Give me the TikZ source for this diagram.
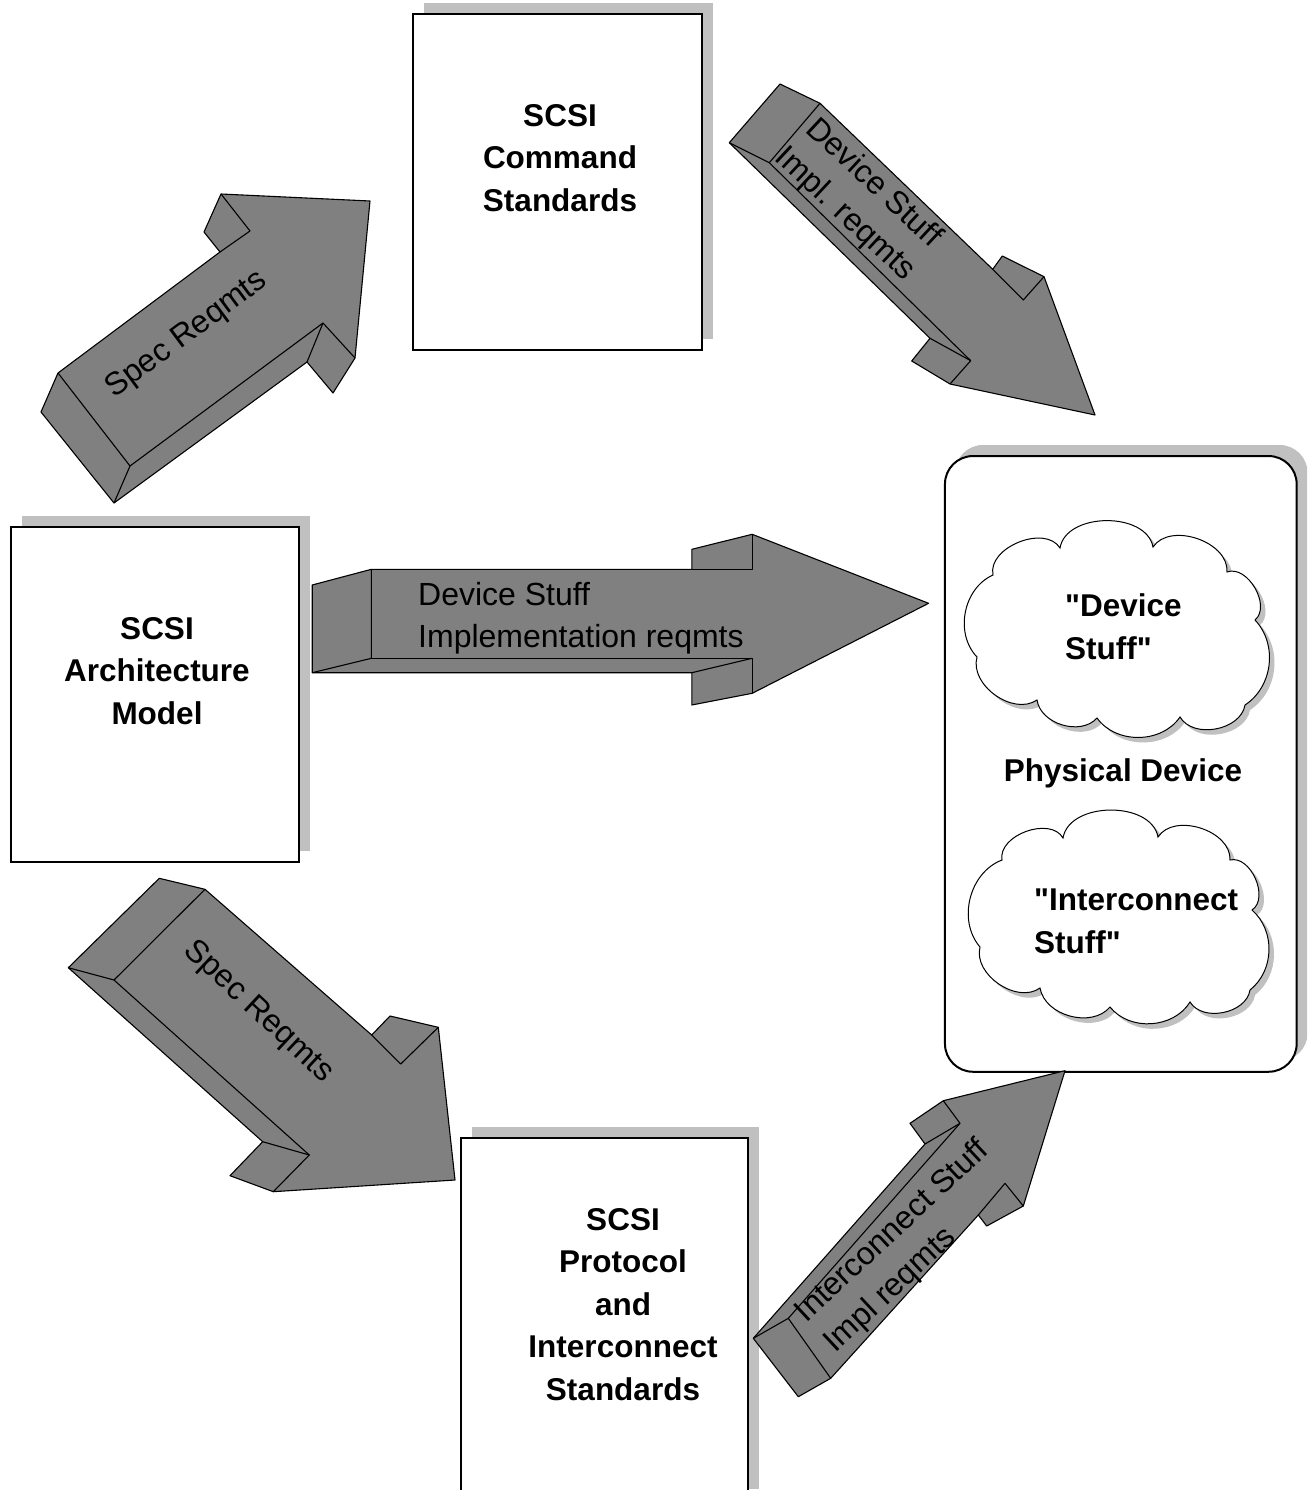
\documentclass[tikz,border=0pt]{standalone}
\usepackage{fontspec}
\setmainfont{Liberation Sans}
\usetikzlibrary{shadows}
\definecolor{shadowgray}{HTML}{C0C0C0}
\definecolor{arrowgray}{HTML}{808080}
\begin{document}
\begin{tikzpicture}[x=1pt,y=-1pt,
  stdbox/.style={draw=black, line width=2pt, fill=white, rectangle, inner sep=0pt,
    drop shadow={shadow xshift=11pt, shadow yshift=11pt, fill=shadowgray, opacity=1}},
  boxlabel/.style={font=\fontsize{31.5}{42.5}\selectfont\bfseries, align=center, inner sep=0pt},
  arrowlabel/.style={font=\fontsize{32}{42}\selectfont, inner sep=0pt},
  arrowface/.style={fill=arrowgray, draw=black, line width=1.1pt, line join=round},
  arrowedge/.style={draw=black, line width=1.1pt, line join=round},
  cloudstyle/.style={fill=white, draw=black, line width=1pt,
    drop shadow={shadow xshift=5pt, shadow yshift=-5pt, fill=shadowgray, opacity=1}}]
\clip (0,0) rectangle (1307,1490);
\fill[white] (0,0) rectangle (1307,1490);

% boxes
\node[stdbox, minimum width=288.4pt, minimum height=336pt] (cmdbox) at (557.5,182) {};
\node[stdbox, minimum width=288pt, minimum height=334.7pt] (archbox) at (155,694.7) {};
\node[stdbox, minimum width=287pt, minimum height=362pt] (protbox) at (604.5,1319) {};
\node[stdbox, rounded corners=28pt, minimum width=351.7pt, minimum height=615.7pt,
  drop shadow={shadow xshift=10pt, shadow yshift=11pt, fill=shadowgray, opacity=1}] (physbox) at (1120.8,763.9) {};

% clouds
\path[cloudstyle] (993,575) to[bend left=80] (1060,548)
  to[bend left=80] (1153,547) to[bend left=75] (1227,572)
  to[bend left=80] (1255,620) to[bend left=50] (1245,705) to[bend left=70] (1180,717)
  to[bend left=55] (1097,718) to[bend left=65] (1037,700) to[bend left=70] (977,657)
  to[bend left=55] (993,575) -- cycle;
\path[cloudstyle] (1002,860) to[bend left=80] (1063,838)
  to[bend left=80] (1158,837) to[bend left=75] (1230,860)
  to[bend left=80] (1252,910) to[bend left=50] (1250,990) to[bend left=70] (1190,1002)
  to[bend left=55] (1110,1007) to[bend left=65] (1040,988) to[bend left=70] (980,947)
  to[bend left=55] (1002,860) -- cycle;

% arrow 1: Spec Reqmts (up)
\path[arrowface] (41,412) -- (58,373) -- (220,252) -- (204,232) -- (221,194) -- (370,201)
  -- (355,358) -- (333,393) -- (307,362) -- (114,503) -- cycle;
\path[arrowedge] (58,373) -- (130,466) -- (114,503);
\path[arrowedge] (130,466) -- (323,323) -- (355,358);
\path[arrowedge] (323,323) -- (307,362);
\path[arrowedge] (221,194) -- (250,231) -- (220,252);

% arrow 2: Device Stuff Impl. reqmts (down-right)
\path[arrowface] (780,84) -- (820,103.3) -- (992.7,269.3) -- (1002.3,256) -- (1044,276.7)
  -- (1095,415) -- (950,384) -- (911.7,361) -- (930,338.3) -- (729.3,142.7) -- cycle;
\path[arrowedge] (820,103.3) -- (769.3,162.7) -- (729.3,142.7);
\path[arrowedge] (769.3,162.7) -- (970.7,360.7) -- (950,384);
\path[arrowedge] (970.7,360.7) -- (930,338.3);
\path[arrowedge] (992.7,269.3) -- (1023.3,300) -- (1044,276.7);

% arrow 3: horizontal
\path[arrowface] (312.2,585) -- (371.4,569.3) -- (691.8,569.3) -- (691.8,549.3) -- (752.2,534.3)
  -- (928.6,603.3) -- (752.2,693.3) -- (691.8,705) -- (691.8,672.7) -- (312.2,672.7) -- cycle;
\path[arrowedge] (371.4,569.3) -- (371.4,658.3) -- (312.2,672.7);
\path[arrowedge] (371.4,658.3) -- (752.2,658.3) -- (752.2,693.3);
\path[arrowedge] (752.2,658.3) -- (691.8,672.7);
\path[arrowedge] (691.8,569.3) -- (752.2,569.3) -- (752.2,534.3);

% arrow 4: Spec Reqmts (down)
\path[arrowface] (159.3,878.3) -- (205,889.3) -- (371.7,1035) -- (390,1016) -- (438.3,1027.3)
  -- (455,1180) -- (273.3,1191.7) -- (230,1175.7) -- (262.7,1141.7) -- (68.3,967.7) -- cycle;
\path[arrowedge] (205,889.3) -- (114,980) -- (68.3,967.7);
\path[arrowedge] (114,980) -- (309.3,1155) -- (273.3,1191.7);
\path[arrowedge] (309.3,1155) -- (262.7,1141.7);
\path[arrowedge] (371.7,1035) -- (400.7,1064) -- (438.3,1027.3);

% arrow 5: Interconnect (up-right)
\path[arrowface] (798.3,1396.7) -- (753.3,1338.3) -- (925,1144) -- (910,1123.3) -- (943.3,1100.7)
  -- (1065,1070.7) -- (1023.3,1206) -- (986.7,1226) -- (978.3,1215) -- (830.7,1378.3) -- cycle;
\path[arrowedge] (753.3,1338.3) -- (788.3,1318.3) -- (830.7,1378.3);
\path[arrowedge] (788.3,1318.3) -- (960,1123.3) -- (943.3,1100.7);
\path[arrowedge] (960,1123.3) -- (925,1144);
\path[arrowedge] (1023.3,1206) -- (1005,1183.3) -- (978.3,1215);

% labels
\node[boxlabel] (cmdtext) at (560,158) {SCSI\\Command\\Standards};
\node[boxlabel] (archtext) at (157,671) {SCSI\\Architecture\\Model};
\node[boxlabel] (prottext) at (623,1304.5) {SCSI\\Protocol\\and\\Interconnect\\Standards};
\node[boxlabel, align=left, anchor=west] (devtext) at (1065,626.5) {\textquotedbl Device\\Stuff\textquotedbl};
\node[boxlabel, anchor=base] (phystext) at (1123,781.5) {Physical Device};
\node[boxlabel, align=left, anchor=west] (inttext) at (1034,921.5) {\textquotedbl Interconnect\\Stuff\textquotedbl};

\node[arrowlabel, rotate=36.5] (lab1) at (187,335) {Spec Reqmts};
\node[arrowlabel, rotate=-43, align=center] (lab2) at (859,199) {Device Stuff\\Impl. reqmts};
\node[arrowlabel, align=left, anchor=west] (lab3) at (418,618.6) {Device Stuff\\Implementation reqmts};
\node[arrowlabel, rotate=-43] (lab4) at (258,1012) {Spec Reqmts};
\node[arrowlabel, rotate=43, align=left] (lab5) at (907,1247) {Interconnect Stuff\\Impl reqmts};
\end{tikzpicture}
\end{document}
